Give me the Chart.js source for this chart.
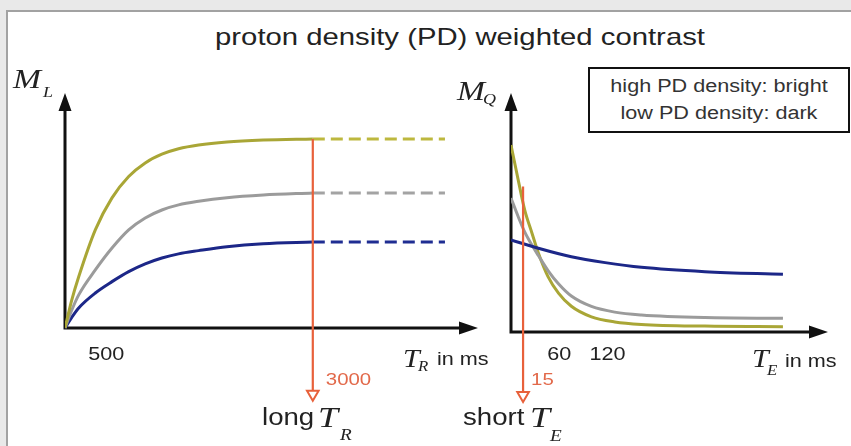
<!DOCTYPE html>
<html>
<head>
<meta charset="utf-8">
<script src="https://cdn.jsdelivr.net/npm/chart.js@4.4.0/dist/chart.umd.min.js"></script>
<style>
  html, body { margin: 0; padding: 0; }
  body { width: 851px; height: 446px; background: #e9e9e9; position: relative; overflow: hidden; font-family: "Liberation Sans", Arial, sans-serif; }
  #frame { position: absolute; left: 6px; top: 10px; width: 860px; height: 450px; background: #fff; border: 2px solid #a2a2a2; box-sizing: border-box; }
  #title { position: absolute; left: 0; top: 25px; width: 920px; text-align: center; font-size: 24px; line-height: 24px; color: #222; white-space: nowrap; transform: scaleX(1.22); transform-origin: 460px 0; }
  #key { position: absolute; left: 588px; top: 67px; width: 262px; height: 66px; box-sizing: border-box; border: 2px solid #111; background: #fff; padding-top: 4px; text-align: center; font-size: 18px; line-height: 27px; color: #333; white-space: nowrap; }
  #key div { transform: scaleX(1.2); }
  canvas { position: absolute; left: 0; top: 0; }
</style>
</head>
<body>
<div id="frame"></div>
<div id="title">proton density (PD) weighted contrast</div>
<div id="key"><div>high PD density: bright</div><div>low PD density: dark</div></div>
<canvas id="left" width="851" height="446"></canvas>
<canvas id="right" width="851" height="446"></canvas>
<script>
// left panel: M_L over T_R (ms), three tissues
var trMs = [0, 80, 166, 367, 569, 771, 971, 1173, 1375, 1617, 1960, 2400, 3000];
var mlHigh = [0, 14.5, 27.1, 51.9, 68.8, 80.1, 87.3, 91.9, 94.8, 96.8, 98.4, 99.4, 100];
var mlMid = [0, 9.2, 17.5, 30.7, 42.3, 51.9, 58.2, 62.4, 65.1, 67.0, 68.9, 70.3, 71.4];
var mlLow = [0, 5.5, 10.6, 18.5, 24.5, 29.8, 33.9, 37.0, 39.2, 40.9, 43.0, 44.6, 45.5];
var trDashed = [3000, 4600];
var trTicks = [500];
var trChosen = 3000;
var trArrow = [100, -35];

// right panel: M_Q over T_E (ms)
var teMs = [0, 9, 17, 26, 34, 46, 59, 75, 100, 129, 162, 241, 338];
var mqHigh = [99, 80.4, 64.6, 52.4, 41.8, 29.3, 20.6, 13.6, 8.0, 5.3, 4.0, 3.1, 2.8];
var mqMid = [70.9, 61, 53, 46, 40.5, 32.5, 25.5, 19, 13.5, 10.5, 9, 7.6, 7.2];
var teMsLow = [0, 34, 75, 117, 162, 241, 338];
var mqLow = [48.7, 44.3, 39.8, 36.7, 34.2, 31.9, 30.5];
var teTicks = [60, 120];
var teChosen = 15;
var teArrow = [77, -33.5];

var yellow = '#a9a636', gray = '#9b9b9b', blue = '#1c2788', red = '#e8613b';
var sans = '"Liberation Sans", Arial, sans-serif';
var serif = '"Liberation Serif", "Times New Roman", serif';

function pts(xs, ys) {
  return xs.map(function (x, i) { return { x: x, y: ys[i] }; });
}
function last(arr) { return arr[arr.length - 1]; }

function curve(data, color, dash) {
  return {
    data: data,
    borderColor: color,
    borderWidth: 3,
    borderDash: dash || [],
    pointRadius: 0,
    cubicInterpolationMode: 'monotone',
    fill: false
  };
}

function arrow(x, ys) {
  return {
    data: [{ x: x, y: ys[0] }, { x: x, y: ys[1] }],
    borderColor: red,
    borderWidth: 2.2,
    pointRadius: [0, 6.7],
    pointStyle: 'triangle',
    pointRotation: 180,
    pointBackgroundColor: '#fff',
    pointBorderColor: red,
    pointBorderWidth: 2,
    clip: false
  };
}

// text in the picture is a bit wider than the fonts we have
function text(ctx, str, x, y, font, color, align) {
  ctx.save();
  ctx.font = font;
  ctx.fillStyle = color || '#222';
  ctx.textAlign = align || 'left';
  ctx.textBaseline = 'alphabetic';
  ctx.translate(x, y);
  ctx.scale(1.2, 1);
  ctx.fillText(str, 0, 0);
  ctx.restore();
}

// black axes with arrow heads, x axis sits at y = 0
var arrowAxes = {
  id: 'arrowAxes',
  beforeDatasetsDraw: function (chart) {
    var a = chart.chartArea, ctx = chart.ctx;
    var y0 = chart.scales.y.getPixelForValue(0);
    ctx.save();
    ctx.strokeStyle = '#111';
    ctx.fillStyle = '#111';
    ctx.lineWidth = 3;
    ctx.beginPath();
    ctx.moveTo(a.left, y0 + 1.5);
    ctx.lineTo(a.left, a.top + 14);
    ctx.moveTo(a.left - 1.5, y0);
    ctx.lineTo(a.right - 14, y0);
    ctx.stroke();
    ctx.beginPath();
    ctx.moveTo(a.left, a.top);
    ctx.lineTo(a.left - 6.5, a.top + 18);
    ctx.lineTo(a.left + 6.5, a.top + 18);
    ctx.closePath();
    ctx.moveTo(a.right, y0);
    ctx.lineTo(a.right - 19, y0 - 6.5);
    ctx.lineTo(a.right - 19, y0 + 6.5);
    ctx.closePath();
    ctx.fill();
    ctx.restore();
  }
};

var leftLabels = {
  id: 'leftLabels',
  afterDraw: function (chart) {
    var ctx = chart.ctx, xs = chart.scales.x;
    var y0 = chart.scales.y.getPixelForValue(0);
    trTicks.forEach(function (v) {
      text(ctx, String(v), xs.getPixelForValue(v), y0 + 32, '18px ' + sans, '#222', 'center');
    });
    text(ctx, String(trChosen), xs.getPixelForValue(trChosen) + 13, y0 + 57, '17px ' + sans, '#e2694a');
    text(ctx, 'M', 13, 88, 'italic 28px ' + serif);
    text(ctx, 'L', 43, 97, 'italic 15px ' + serif);
    text(ctx, 'T', 403, 367, 'italic 25px ' + serif);
    text(ctx, 'R', 418, 371, 'italic 14px ' + serif);
    text(ctx, 'in ms', 437, 365, '18px ' + sans);
    text(ctx, 'long', 262, 425, '23px ' + sans);
    text(ctx, 'T', 318, 427, 'italic 30px ' + serif);
    text(ctx, 'R', 340, 440, 'italic 16px ' + serif);
  }
};

var rightLabels = {
  id: 'rightLabels',
  afterDraw: function (chart) {
    var ctx = chart.ctx, xs = chart.scales.x;
    var y0 = chart.scales.y.getPixelForValue(0);
    teTicks.forEach(function (v) {
      text(ctx, String(v), xs.getPixelForValue(v), y0 + 28, '18px ' + sans, '#222', 'center');
    });
    text(ctx, String(teChosen), xs.getPixelForValue(teChosen) + 8, y0 + 53, '17px ' + sans, '#e2694a');
    text(ctx, 'M', 457, 100, 'italic 28px ' + serif);
    text(ctx, 'Q', 483, 104, 'italic 15px ' + serif);
    text(ctx, 'T', 752, 367, 'italic 25px ' + serif);
    text(ctx, 'E', 767, 375, 'italic 14px ' + serif);
    text(ctx, 'in ms', 785, 367, '18px ' + sans);
    text(ctx, 'short', 463, 425, '23px ' + sans);
    text(ctx, 'T', 530, 427, 'italic 30px ' + serif);
    text(ctx, 'E', 550, 441, 'italic 16px ' + serif);
  }
};

function baseOptions(padding, xMax, yMin, yMax) {
  return {
    responsive: false,
    animation: false,
    events: [],
    layout: { padding: padding },
    plugins: { legend: { display: false }, tooltip: { enabled: false } },
    scales: {
      x: { type: 'linear', min: 0, max: xMax, display: false },
      y: { type: 'linear', min: yMin, max: yMax, display: false }
    }
  };
}

var leftChart = new Chart(document.getElementById('left'), {
  type: 'line',
  data: {
    datasets: [
      arrow(trChosen, trArrow),
      curve(pts(trMs, mlHigh), yellow),
      curve(pts(trMs, mlMid), gray),
      curve(pts(trMs, mlLow), blue),
      curve(pts(trDashed, [last(mlHigh), last(mlHigh)]), '#bdb83e', [12, 6]),
      curve(pts(trDashed, [last(mlMid), last(mlMid)]), '#a3a3a3', [12, 6]),
      curve(pts(trDashed, [last(mlLow), last(mlLow)]), '#1f2d92', [12, 6])
    ]
  },
  options: baseOptions({ left: 65, top: 93, right: 373, bottom: 40 }, 5000, -41.3, 124.3),
  plugins: [arrowAxes, leftLabels]
});

var rightChart = new Chart(document.getElementById('right'), {
  type: 'line',
  data: {
    datasets: [
      arrow(teChosen, teArrow),
      curve(pts(teMsLow, mqLow), blue),
      curve(pts(teMs, mqMid), gray),
      curve(pts(teMs, mqHigh), yellow)
    ]
  },
  options: baseOptions({ left: 511, top: 93, right: 23, bottom: 40 }, 394, -39.2, 126.5),
  plugins: [arrowAxes, rightLabels]
});
</script>
</body>
</html>
